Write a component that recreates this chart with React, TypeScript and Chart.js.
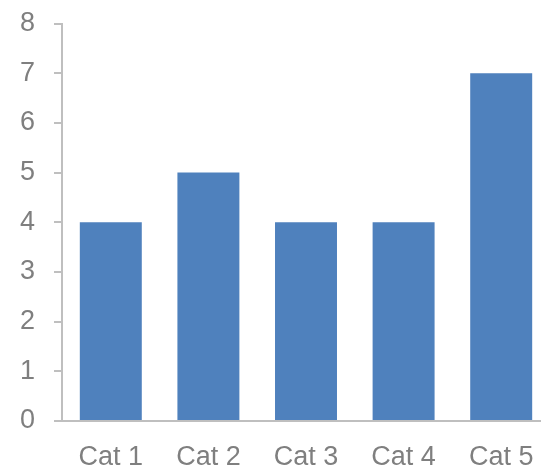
import React, { useEffect, useRef } from "react";
import { Chart, registerables } from "chart.js";

Chart.register(...registerables);

const categories = ["Cat 1", "Cat 2", "Cat 3", "Cat 4", "Cat 5"];
const seriesValues = [4, 5, 4, 4, 7];
const yTicks = [0, 1, 2, 3, 4, 5, 6, 7, 8];

const AXIS = "#BFBFBF";
const TEXT = "#7F7F7F";
const BAR = "#4F81BD";

export default function App() {
  const ref = useRef<HTMLCanvasElement | null>(null);
  useEffect(() => {
    if (!ref.current) return;
    const chart = new Chart(ref.current, {
      type: "bar",
      data: {
        labels: categories,
        datasets: [
          {
            data: seriesValues,
            backgroundColor: BAR,
            borderWidth: 0,
            categoryPercentage: 1,
            barPercentage: 0.635,
          },
        ],
      },
      options: {
        responsive: false,
        animation: false,
        layout: { padding: { top: 0, right: 0, bottom: 0, left: 0 } },
        plugins: { legend: { display: false }, tooltip: { enabled: false } },
        scales: {
          x: {
            grid: { display: false },
            border: { display: true, color: AXIS, width: 2 },
            ticks: {
              color: TEXT,
              padding: 15,
              font: { family: "'Liberation Sans', Arial, sans-serif", size: 27, lineHeight: 1 },
            },
            afterFit: (s: any) => {
              s.height = 46;
            },
          },
          y: {
            min: yTicks[0],
            max: yTicks[yTicks.length - 1],
            grid: {
              drawOnChartArea: false,
              drawTicks: true,
              tickLength: 8,
              color: AXIS,
              lineWidth: 2,
            },
            border: { display: true, color: AXIS, width: 2 },
            afterBuildTicks: (s: any) => {
              s.ticks = yTicks.map((v) => ({ value: v }));
            },
            ticks: {
              color: TEXT,
              padding: 19,
              font: { family: "'Liberation Sans', Arial, sans-serif", size: 27, lineHeight: 1 },
            },
            afterFit: (s: any) => {
              s.width = 62;
            },
          },
        },
      },
    });
    return () => chart.destroy();
  }, []);
  return (
    <div
      style={{
        position: "fixed",
        left: 0,
        top: 0,
        width: 541,
        height: 467,
        overflow: "hidden",
        background: "#fff",
      }}
    >
      <canvas
        ref={ref}
        width={550}
        height={476}
        style={{ display: "block", position: "absolute", left: 0, top: -9 }}
      />
    </div>
  );
}
